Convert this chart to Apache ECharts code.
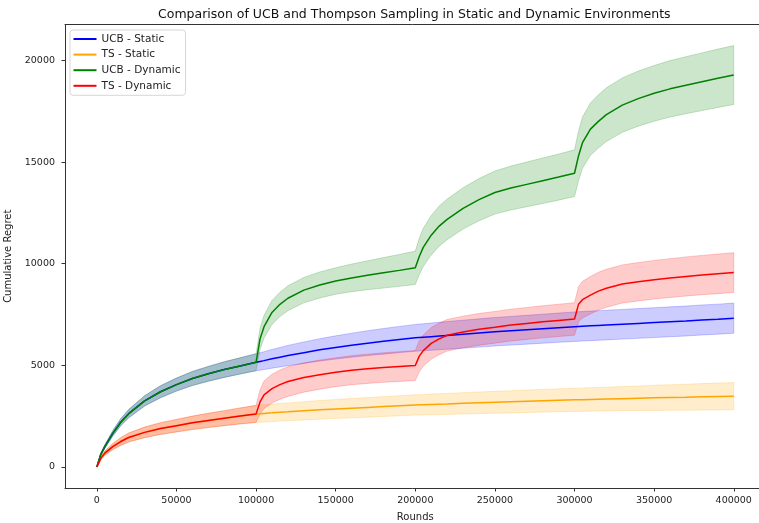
<!DOCTYPE html>
<html><head><meta charset="utf-8">
<script src="https://cdn.jsdelivr.net/npm/echarts@6/dist/echarts.min.js"></script>
<style>html,body{margin:0;padding:0;background:#fff}#c{width:759px;height:523px}</style>
</head><body><div id="c"></div>
<script>
const rounds = [0,2500,5000,10000,15000,20000,30000,40000,50000,60000,70000,80000,90000,100000,
  102500,105000,110000,115000,120000,130000,140000,150000,160000,170000,180000,190000,200000,
  202500,205000,210000,215000,220000,230000,240000,250000,260000,270000,280000,290000,300000,
  302500,305000,310000,315000,320000,330000,340000,350000,360000,370000,380000,390000,400000];

const ucbStatic = [0,620,1000,1650,2200,2620,3250,3700,4050,4350,4580,4790,4970,5150,
  5190,5230,5320,5400,5480,5620,5760,5880,5990,6090,6180,6270,6350,
  6365,6380,6410,6440,6470,6530,6590,6650,6700,6750,6800,6850,6900,
  6910,6920,6940,6960,6980,7020,7060,7100,7140,7180,7230,7270,7320];
const ucbStaticSpread = [0,55,85,135,175,205,255,295,320,345,365,385,400,420,
  430,440,460,480,500,530,550,570,590,610,630,645,660,
  662,665,670,675,680,690,695,700,705,710,715,720,725,
  726,727,728,729,730,731,732,735,736,737,738,739,740];

const tsStatic = [0,420,680,1000,1250,1450,1700,1890,2030,2170,2290,2400,2510,2610,
  2620,2635,2660,2690,2710,2760,2810,2850,2890,2930,2970,3010,3050,
  3055,3060,3075,3090,3100,3130,3155,3180,3205,3230,3255,3280,3300,
  3305,3310,3320,3330,3340,3360,3380,3400,3415,3430,3450,3465,3480];
const tsStaticSpread = [0,70,100,150,190,220,260,290,310,330,350,370,395,420,
  422,425,430,435,440,450,460,470,476,482,488,494,500,
  502,504,508,512,516,524,532,540,546,552,558,564,570,
  572,574,578,582,586,594,602,620,630,640,650,660,670];

const ucbDynamic = [0,620,1000,1650,2200,2620,3250,3700,4050,4350,4580,4790,4970,5150,
  6300,6900,7600,8000,8300,8700,8950,9150,9300,9430,9550,9670,9800,
  10350,10800,11400,11850,12180,12720,13150,13500,13720,13900,14080,14260,14450,
  15300,15950,16620,17000,17330,17800,18120,18380,18600,18780,18950,19120,19280];
const ucbDynamicSpread = [0,55,85,135,175,205,255,295,320,345,365,385,400,420,
  520,560,590,600,610,625,640,650,680,710,750,785,820,
  900,940,970,990,1000,1020,1040,1060,1080,1100,1120,1135,1150,
  1220,1260,1290,1310,1320,1340,1355,1370,1390,1405,1420,1435,1450];

const tsDynamic = [0,420,680,1000,1250,1450,1700,1890,2030,2170,2290,2400,2510,2610,
  3200,3550,3850,4050,4200,4400,4540,4660,4760,4830,4890,4940,4990,
  5450,5720,6080,6300,6480,6640,6770,6870,6980,7060,7140,7210,7280,
  8000,8230,8450,8650,8790,9000,9110,9210,9290,9370,9440,9500,9560];
const tsDynamicSpread = [0,70,100,150,190,220,260,290,310,330,350,370,395,420,
  600,680,710,720,730,720,715,710,715,720,725,732,740,
  760,770,775,777,778,779,780,780,783,786,790,795,800,
  870,900,920,930,935,940,945,950,956,962,968,974,980];

const xTicks = [0,50000,100000,150000,200000,250000,300000,350000,400000];
const yTicks = [0,5000,10000,15000,20000];
const seriesNames = ['UCB - Static','TS - Static','UCB - Dynamic','TS - Dynamic'];

const FONT = 'DejaVu Sans';
const TXT = '#222';

function lineSeries(name, vals, color) {
  return {
    type: 'line', name: name, color: color,
    data: rounds.map((r, i) => [r, vals[i]]),
    showSymbol: false, symbol: 'none', smooth: false,
    lineStyle: { width: 1.5, color: color },
    emphasis: { disabled: true }, silent: true
  };
}
function bandSeries(name, vals, spread, rgb) {
  return {
    type: 'custom', name: name + ' band', silent: true,
    data: rounds.map((r, i) => [r, vals[i] - spread[i], vals[i] + spread[i]]),
    encode: { x: 0, y: [1, 2] },
    renderItem: function (params, api) {
      if (params.dataIndex !== 0) return null;
      const up = [], lo = [];
      for (let i = 0; i < rounds.length; i++) {
        up.push(api.coord([rounds[i], vals[i] + spread[i]]));
        lo.push(api.coord([rounds[i], vals[i] - spread[i]]));
      }
      return {
        type: 'polygon',
        shape: { points: up.concat(lo.reverse()) },
        style: { fill: 'rgba(' + rgb + ',0.2)', stroke: 'rgba(' + rgb + ',0.2)', lineWidth: 1 }
      };
    }
  };
}

const chart = echarts.init(document.getElementById('c'), null, { renderer: 'canvas' });
chart.setOption({
  animation: false,
  backgroundColor: '#fff',
  title: {
    text: 'Comparison of UCB and Thompson Sampling in Static and Dynamic Environments',
    left: 158, top: 8, padding: 0,
    textStyle: { fontFamily: FONT, fontSize: 12.5, fontWeight: 'normal', color: '#111' }
  },
  grid: { left: 65, right: -6.6, top: 24.5, bottom: 35, outerBoundsMode: 'none', containLabel: false, show: false },
  legend: {
    data: seriesNames, orient: 'vertical', left: 70, top: 30,
    icon: 'rect', itemWidth: 23, itemHeight: 2, itemGap: 3.6,
    padding: [3, 5, 3.5, 3.5],
    backgroundColor: 'rgba(255,255,255,0.85)', borderColor: '#d6d6d6', borderWidth: 1, borderRadius: 3,
    textStyle: { fontFamily: FONT, fontSize: 10.5, color: TXT, lineHeight: 12 },
    selectedMode: false
  },
  xAxis: [{
    type: 'value', min: -20000, max: 420000,
    splitLine: { show: false },
    axisLine: { show: true, onZero: false, lineStyle: { color: '#333', width: 1 } },
    axisTick: { show: true, customValues: xTicks, length: 3.5, lineStyle: { color: '#333' } },
    axisLabel: { customValues: xTicks, margin: 8, fontFamily: FONT, fontSize: 9.5, color: TXT, formatter: v => String(v) },
    name: 'Rounds', nameLocation: 'middle', nameGap: 24,
    nameTextStyle: { fontFamily: FONT, fontSize: 10, color: TXT }
  }, {
    type: 'value', position: 'top', min: -20000, max: 420000,
    splitLine: { show: false },
    axisLine: { show: true, onZero: false, lineStyle: { color: '#333', width: 1 } },
    axisTick: { show: false }, axisLabel: { show: false }
  }],
  yAxis: {
    type: 'value', min: -1036, max: 21766,
    splitLine: { show: false },
    axisLine: { show: true, onZero: false, lineStyle: { color: '#333', width: 1 } },
    axisTick: { show: true, customValues: yTicks, length: 3.5, lineStyle: { color: '#333' } },
    axisLabel: { customValues: yTicks, margin: 10, fontFamily: FONT, fontSize: 9.5, color: TXT, formatter: v => String(v) },
    name: 'Cumulative Regret', nameLocation: 'middle', nameGap: 52,
    nameTextStyle: { fontFamily: FONT, fontSize: 10, color: TXT }
  },
  series: [
    lineSeries(seriesNames[0], ucbStatic, '#0000ff'),
    bandSeries(seriesNames[0], ucbStatic, ucbStaticSpread, '0,0,255'),
    lineSeries(seriesNames[1], tsStatic, '#ffa500'),
    bandSeries(seriesNames[1], tsStatic, tsStaticSpread, '255,165,0'),
    lineSeries(seriesNames[2], ucbDynamic, '#008000'),
    bandSeries(seriesNames[2], ucbDynamic, ucbDynamicSpread, '0,128,0'),
    lineSeries(seriesNames[3], tsDynamic, '#ff0000'),
    bandSeries(seriesNames[3], tsDynamic, tsDynamicSpread, '255,0,0')
  ]
});
</script>
</body></html>
